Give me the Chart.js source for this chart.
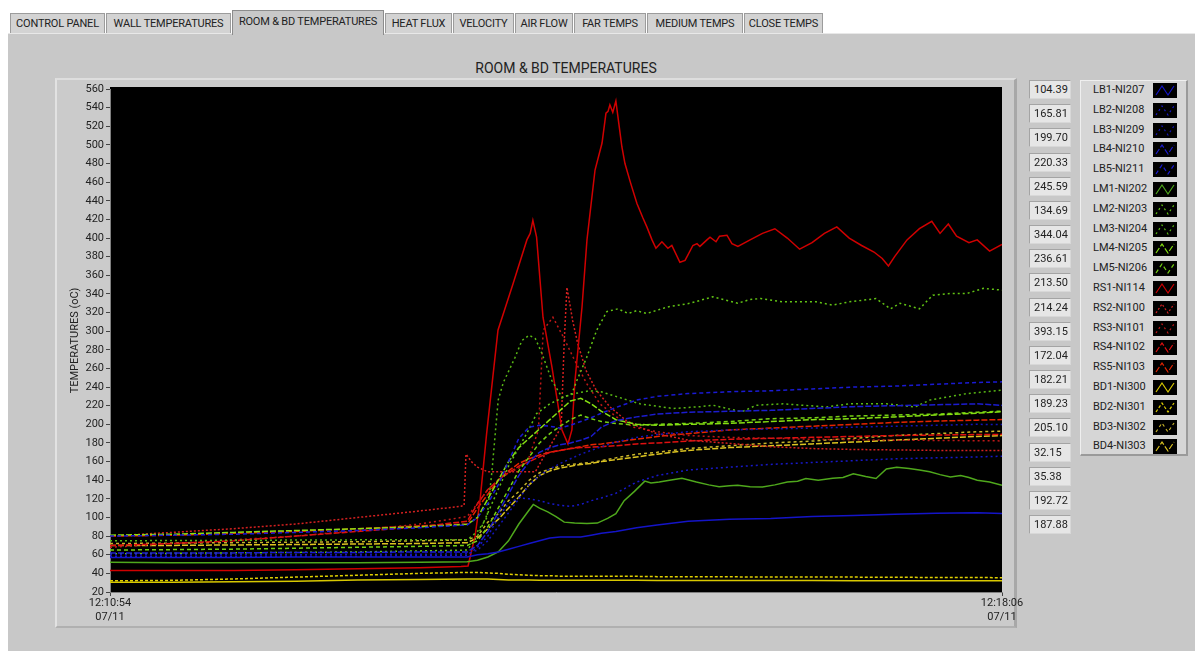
<!DOCTYPE html>
<html>
<head>
<meta charset="utf-8">
<script src="https://cdn.jsdelivr.net/npm/chart.js@4"></script>
<style>
  html, body { margin: 0; padding: 0; }
  body { width: 1195px; height: 653px; background: #ffffff; position: relative; overflow: hidden;
         font-family: Roboto, "Noto Sans", sans-serif; color: #222; }
  #page { position: absolute; left: 8px; top: 33px; width: 1187px; height: 617px; background: #c8c8c8;
          border-top: 1px solid #e8e8e8; }
  .tab { position: absolute; top: 13px; height: 19px; background: #d3d3d3; border: 1px solid #9c9c9c;
         border-bottom: none; font-size: 11px; line-height: 19px; text-align: center; white-space: nowrap;
         letter-spacing: -0.2px; }
  .tab.sel { top: 10px; height: 24px; line-height: 21px; background: #c8c8c8; z-index: 2; border-color: #8c8c8c; }
  #frame { position: absolute; left: 55px; top: 78px; width: 962px; height: 550px; background: #cbcbcb;
           border-left: 2px solid #e2e2e2; border-top: 2px solid #dedede; border-right: 3px solid #a8a8a8;
           border-bottom: 2px solid #b0b0b0; box-sizing: border-box; }
  #title { position: absolute; left: 440px; width: 252px; top: 60px; text-align: center; font-size: 14px; color: #222; }
  #chartCanvas { position: absolute; left: 55px; top: 80px; }
  .readout { position: absolute; left: 1029px; width: 42px; height: 19px; box-sizing: border-box;
             background: #e6e6e6; border: 1px solid #a4a4a4; border-right-color: #d8d8d8; border-bottom-color: #d8d8d8;
             font-size: 11px; line-height: 17px; padding-left: 4px; color: #222; }
  #legend { position: absolute; left: 1080px; top: 80px; width: 108px; height: 376px; box-sizing: border-box;
            background: #d6d6d6; border-left: 1px solid #efefef; border-top: 1px solid #efefef;
            border-right: 2px solid #9a9a9a; border-bottom: 2px solid #9a9a9a; }
  .lgItem { position: absolute; left: 12px; height: 16px; font-size: 11px; line-height: 16px; color: #222; }
  .lgIcon { position: absolute; left: 72px; width: 24px; height: 15px; background: #000; }
</style>
</head>
<body>
<div id="page"></div>
<div id="tabs"></div>
<div id="frame"></div>
<div id="title">ROOM &amp; BD TEMPERATURES</div>
<canvas id="chartCanvas" width="975" height="548"></canvas>
<div id="readouts"></div>
<div id="legend"></div>

<script>
// ---- tab strip ----
const tabNames = ['CONTROL PANEL', 'WALL TEMPERATURES', 'ROOM & BD TEMPERATURES', 'HEAT FLUX', 'VELOCITY',
                  'AIR FLOW', 'FAR TEMPS', 'MEDIUM TEMPS', 'CLOSE TEMPS'];
const activeTab = 2;

// ---- time axis (seconds after 12:10:54) ----
const startLabel = ['12:10:54', '07/11'];
const endLabel = ['12:18:06', '07/11'];
const runSeconds = 432;

// common sampling instants for the smoother channels
const timeSec = [0, 30, 60, 90, 120, 150, 173, 178, 183, 188, 193, 198, 203, 208, 213, 218, 223, 228, 233, 238,
                 245, 255, 265, 280, 300, 320, 340, 360, 380, 400, 420, 432];

// ---- left bay (blue) ----
const lb1 = [57, 57, 57, 57.5, 57.5, 57.5, 57.6, 60, 61, 63, 66, 69, 72, 75, 78, 79, 79, 79, 81, 83,
             85, 89, 92, 96, 98, 99, 101, 102, 103.5, 104.5, 105, 104.39];
const lb2 = [58, 58, 58, 58.5, 58.5, 59, 59.5, 68, 80, 100, 115, 121, 120, 118, 115, 113, 112, 114, 118, 121,
             126, 138, 145, 151, 154, 157, 159, 161, 163, 164, 165, 165.81];
const lb3 = [60, 60, 60, 60, 60.5, 60.5, 61, 65, 75, 90, 105, 120, 135, 145, 152, 158, 163, 168, 172, 176,
             181, 186, 189, 192, 194, 195, 196, 197, 198, 199, 200, 199.70];
const lb4 = [62, 62, 62, 62.5, 62.5, 63, 63, 70, 85, 105, 125, 145, 160, 170, 175, 178, 180, 183, 187, 197,
             204, 208, 211, 213, 214, 215, 217, 219, 220, 221, 222, 220.33];
const lb5 = [80, 81, 82, 84, 86, 89, 92, 100, 115, 135, 160, 185, 197, 199, 198, 196, 199, 203, 207, 212,
             218, 226, 230, 233, 235, 236, 238, 240, 241, 243, 245, 245.59];

// ---- left middle (green) ----
const lm1 = [[0, 52], [30, 51.5], [60, 51.5], [90, 51.5], [120, 51.5], [150, 52], [173, 52.5], [178, 54], [183, 57.6],
             [188, 63], [193, 75], [198, 93], [203, 108], [205, 114], [208, 110], [212, 106], [216, 101], [220, 95],
             [225, 94], [231, 93.5], [236, 94], [241, 99], [245, 104], [249, 118], [254, 128], [259, 139], [262, 137],
             [266, 138], [271, 140], [277, 142], [284, 138], [290, 135], [295, 133], [300, 134], [304, 134.6], [310, 133],
             [316, 132.8], [322, 135], [328, 138], [333, 139], [337, 141.8], [343, 140], [350, 142], [355, 143],
             [360, 147], [366, 144], [371, 141.8], [376, 152], [381, 154], [387, 152.5], [392, 151], [397, 149],
             [402, 146], [407, 143.5], [412, 145], [416, 143], [420, 140], [426, 138], [432, 134.69]];
const lm2 = [[0, 61], [60, 62], [120, 63], [173, 65], [178, 80], [183, 105], [188, 130], [193, 155], [198, 175],
             [203, 195], [206.6, 211.6], [213, 222], [219.6, 229], [223.7, 233], [226.1, 247], [230.9, 272],
             [235.7, 301], [240.6, 321], [246, 324], [251, 319], [255, 322], [260, 319], [270, 326], [281, 330],
             [292, 337], [304, 330], [310, 334], [315, 335], [326, 331.5], [342, 331.5], [350, 328], [358, 331.5],
             [371, 335], [378, 324], [382.6, 330], [392, 324], [398.5, 338.7], [406.8, 340.5], [415, 340.5],
             [423, 346], [432, 344.04]];
const lm3 = [[0, 75], [60, 75.5], [120, 76], [173, 76], [178, 85], [182.6, 100], [185, 150], [188, 226],
             [190.5, 245], [193.7, 260], [196.2, 272], [199.5, 290], [203, 295.7], [206, 292], [209.2, 276],
             [214, 247], [218.9, 229], [225, 233], [232, 236], [237.8, 235], [245, 230], [256.6, 222], [272.8, 217],
             [286, 219], [292, 220.5], [303, 215], [306, 213.5], [313, 220.5], [326, 222], [347, 218.7], [358, 222],
             [376, 222], [390, 218.7], [397, 226], [415, 233], [432, 236.61]];
const lm4 = [81, 82, 84, 86, 88, 90, 92.7, 100, 120, 140, 160, 175, 185, 195, 205, 215, 225, 228, 222, 214,
             205, 200, 199, 200, 201, 203, 205, 206, 208, 210, 212, 213.50];
const lm5 = [65, 65.5, 66, 67, 68, 69, 70, 75, 90, 110, 130, 150, 165, 180, 190, 198, 205, 210, 206, 203,
             201, 199, 200, 201, 203, 206, 207, 209, 210, 211, 213, 214.24];

// ---- right side (red) ----
const rs1 = [[0, 43], [30, 43], [60, 43], [90, 44], [120, 45], [150, 46], [170, 47.5], [173.4, 48], [176.8, 80],
             [179.2, 118], [182.4, 190], [187.9, 301], [195.2, 351], [201.9, 398], [203.5, 405], [204.8, 419],
             [206.6, 401], [209.7, 315], [214, 262], [218.9, 194], [221.8, 179], [223.7, 194], [225.2, 247],
             [228.6, 326], [231, 398], [234.9, 473], [238.3, 502], [240.2, 534], [241.2, 536], [242.1, 543],
             [243.5, 535], [245, 547], [247.9, 498], [249.4, 480], [252, 460], [255.2, 437], [258, 422], [260, 412],
             [262.5, 398], [264.4, 389], [267.3, 396], [270.2, 389], [272.1, 392], [276, 374], [278.5, 376],
             [282.3, 392], [284.3, 394], [285.7, 391], [289.1, 398], [290.6, 401], [293.5, 396], [295.2, 402],
             [298.8, 403], [301.2, 394], [304.1, 391], [310, 398], [316, 405], [322, 410], [328, 400], [334, 388],
             [340, 395], [346, 405], [352, 412], [358, 400], [364, 392], [370, 385], [374, 378], [377, 370],
             [380, 380], [386, 398], [392, 410], [398, 418], [402, 405], [406, 415], [410, 402], [416, 395],
             [420, 398], [426, 386], [432, 393.15]];
const rs2 = [[0, 80], [30, 84], [60, 88], [90, 93], [120, 100], [150, 107], [170, 112], [171.5, 113], [172.4, 168],
             [175, 160], [178, 154], [183, 149], [195, 149], [206, 149], [210, 165], [214, 180], [218.5, 197],
             [220, 290], [221.3, 347], [224.1, 311], [226.5, 287], [230.5, 258], [235.4, 237], [242, 219], [250, 204],
             [256.5, 197], [264.8, 190], [280, 183], [303, 179], [320, 176], [340, 174], [360, 173], [380, 172.5],
             [400, 172], [432, 172.04]];
const rs3 = [[0, 68], [30, 72], [60, 76], [90, 80], [120, 86], [150, 93], [173, 101], [178, 115], [183, 130],
             [188, 140], [193, 148], [198, 153], [203, 165], [207.5, 194], [209.8, 301], [214.5, 315], [219.5, 294],
             [224.3, 272], [230.8, 244], [237.3, 222], [245.3, 208], [253.4, 197], [265, 192], [280, 188], [300, 186],
             [340, 184], [380, 183], [432, 182.21]];
const rs4 = [70, 72, 75, 80, 85, 90, 96, 115, 130, 140, 148, 155, 160, 165, 170, 172, 174, 175, 175.5, 176,
             177, 179, 180, 182, 184, 185, 186, 187, 188, 188.5, 189, 189.23];
const rs5 = [80, 81, 83, 85, 88, 91, 93, 110, 125, 140, 150, 158, 163, 167, 170, 172, 174, 176, 178, 179,
             181, 184, 187, 190, 194, 196, 198, 200, 202, 203.5, 204.5, 205.10];

// ---- back door (yellow) ----
const bd1 = [30.5, 30.5, 31, 31.5, 33, 33.5, 34, 34, 34, 33.5, 33, 33, 32.8, 32.6, 32.5, 32.5, 32.5, 32.5, 32.5, 32.5,
             32.5, 32.5, 32.4, 32.4, 32.3, 32.3, 32.3, 32.2, 32.2, 32.2, 32.2, 32.15];
const bd2 = [32, 32.5, 34, 36, 38, 40, 41, 41, 40.5, 40, 39, 38.5, 38, 37.5, 37.5, 37, 37, 37, 37, 37,
             37, 36.8, 36.5, 36.5, 36.3, 36, 36, 36, 35.8, 35.6, 35.5, 35.38];
const bd3 = [72, 72.5, 73, 73.5, 74, 75, 76, 80, 95, 104, 118, 128, 140, 148, 152, 155, 157, 158, 159, 161,
             164, 168, 170, 174, 177, 180, 182, 185, 188, 190, 192, 192.72];
const bd4 = [70, 70, 70.5, 71, 71.5, 72, 73, 78, 88, 98, 110, 122, 135, 145, 150, 153, 155, 157, 158, 160,
             162, 165, 168, 172, 175, 177, 179, 181, 183, 185, 187, 187.88];

// channel name, samples, colour, dash pattern
const onGrid = vals => vals.map((v, i) => ({ x: timeSec[i], y: v }));
const paired = pts => pts.map(p => ({ x: p[0], y: p[1] }));
const channels = [
  ['LB1-NI207', onGrid(lb1), '#1414c8', []],
  ['LB2-NI208', onGrid(lb2), '#1818c8', [2, 3]],
  ['LB3-NI209', onGrid(lb3), '#1414b8', [2, 3]],
  ['LB4-NI210', onGrid(lb4), '#1c1cd0', [6, 2]],
  ['LB5-NI211', onGrid(lb5), '#1a1ad4', [4, 3]],
  ['LM1-NI202', paired(lm1), '#4fa81c', []],
  ['LM2-NI203', paired(lm2), '#62c414', [2, 3]],
  ['LM3-NI204', paired(lm3), '#58b814', [2, 3]],
  ['LM4-NI205', onGrid(lm4), '#86e012', [6, 2]],
  ['LM5-NI206', onGrid(lm5), '#74d012', [4, 3]],
  ['RS1-NI114', paired(rs1), '#d00000', []],
  ['RS2-NI100', paired(rs2), '#d42020', [2, 2]],
  ['RS3-NI101', paired(rs3), '#c01818', [2, 3]],
  ['RS4-NI102', onGrid(rs4), '#e01010', [6, 2]],
  ['RS5-NI103', onGrid(rs5), '#e42400', [6, 2]],
  ['BD1-NI300', onGrid(bd1), '#d8c800', []],
  ['BD2-NI301', onGrid(bd2), '#e0d000', [3, 2]],
  ['BD3-NI302', onGrid(bd3), '#c8b42a', [3, 3]],
  ['BD4-NI303', onGrid(bd4), '#dcc420', [6, 2]]
];

// ---- tabs ----
const tabBox = [[10, 93], [106, 123], [232, 150], [385, 65], [453, 59], [515, 56], [574, 70], [647, 94], [744, 77]];
const tabsEl = document.getElementById('tabs');
tabNames.forEach((name, i) => {
  const d = document.createElement('div');
  d.className = 'tab' + (i === activeTab ? ' sel' : '');
  d.style.left = tabBox[i][0] + 'px';
  d.style.width = tabBox[i][1] + 'px';
  d.textContent = name;
  tabsEl.appendChild(d);
});

// ---- latest readings and legend ----
const readEl = document.getElementById('readouts');
const legEl = document.getElementById('legend');
channels.forEach((c, i) => {
  const pts = c[1];
  const r = document.createElement('div');
  r.className = 'readout';
  r.style.top = (80 + i * 24.17) + 'px';
  r.textContent = pts[pts.length - 1].y.toFixed(2);
  readEl.appendChild(r);

  const t = document.createElement('div');
  t.className = 'lgItem';
  t.style.top = (1 + i * 19.8) + 'px';
  t.textContent = c[0];
  legEl.appendChild(t);

  const ic = document.createElementNS('http://www.w3.org/2000/svg', 'svg');
  ic.setAttribute('class', 'lgIcon');
  ic.setAttribute('width', '24');
  ic.setAttribute('height', '15');
  ic.style.top = (2 + i * 19.8) + 'px';
  const pl = document.createElementNS('http://www.w3.org/2000/svg', 'polyline');
  pl.setAttribute('points', '3,12 9,3 15,12 21,3');
  pl.setAttribute('fill', 'none');
  pl.setAttribute('stroke', c[2]);
  pl.setAttribute('stroke-width', '1.2');
  if (c[3].length) pl.setAttribute('stroke-dasharray', c[3].join(' '));
  ic.appendChild(pl);
  legEl.appendChild(ic);
});

// ---- plot ----
const blackPlot = {
  id: 'blackPlot',
  beforeDraw(chart) {
    const a = chart.chartArea, g = chart.ctx;
    g.save();
    g.fillStyle = '#000000';
    g.fillRect(a.left, a.top - 2, a.right - a.left, a.bottom - a.top + 2);
    g.restore();
  }
};

const axisFont = { family: 'Roboto', size: 11 };
new Chart(document.getElementById('chartCanvas'), {
  type: 'line',
  data: {
    datasets: channels.map(c => ({
      label: c[0], data: c[1], borderColor: c[2], borderDash: c[3],
      borderWidth: 1.5, pointRadius: 0, tension: 0, fill: false
    }))
  },
  options: {
    responsive: false,
    animation: false,
    layout: { padding: { top: 9, right: 28, left: 0, bottom: 0 } },
    plugins: { legend: { display: false }, tooltip: { enabled: false } },
    scales: {
      x: {
        type: 'linear', min: 0, max: runSeconds,
        afterBuildTicks: ax => { ax.ticks = [{ value: 0 }, { value: runSeconds }]; },
        afterFit: ax => { ax.height = 36; },
        ticks: { callback: v => (v === 0 ? startLabel : endLabel), maxRotation: 0, autoSkip: false,
                 font: axisFont, color: '#222', padding: 1 },
        grid: { drawOnChartArea: false, drawTicks: true, tickLength: 4, color: '#444' },
        border: { color: '#808080' }
      },
      y: {
        min: 20, max: 560,
        afterFit: ax => { ax.width = 55; },
        ticks: { stepSize: 20, autoSkip: false, font: axisFont, color: '#222', padding: 2 },
        grid: { drawOnChartArea: false, drawTicks: true, tickLength: 4, color: '#444' },
        border: { color: '#808080' },
        title: { display: true, text: 'TEMPERATURES (oC)', font: axisFont, color: '#222', padding: { top: 14, bottom: 0 } }
      }
    }
  },
  plugins: [blackPlot]
});
</script>
</body>
</html>
